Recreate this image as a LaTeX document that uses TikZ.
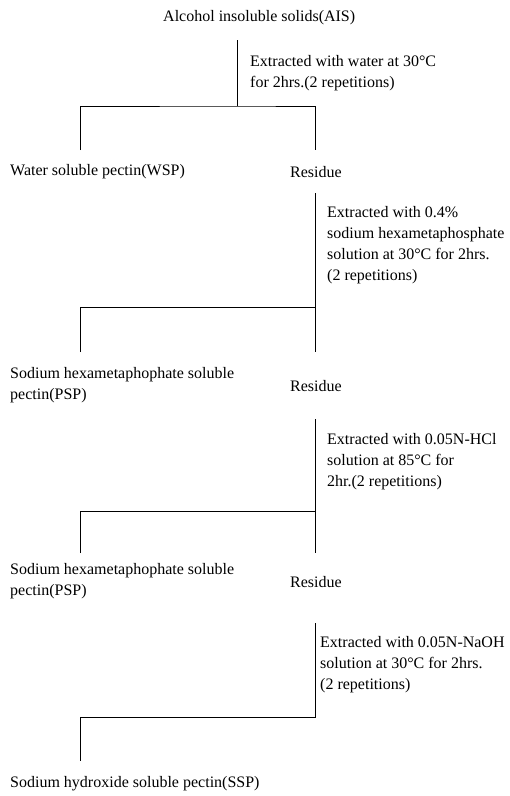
\documentclass[tikz,border=0pt]{standalone}
\usepackage{fontspec}
\setmainfont{Liberation Serif}
\usetikzlibrary{positioning}
\tikzset{
line width=0.7pt,
product/.style={inner sep=0pt, anchor=west, align=left, font=\fontsize{16}{21}\selectfont}, % fractions and residues
cond/.style={product}, % extraction conditions beside the main line
}

\begin{document}
\begin{tikzpicture}[x=1pt, y=-1pt]
\useasboundingbox (0,0) rectangle (510,796);
\node[product] at (163,18) (AIS) {Alcohol insoluble solids(AIS)};
\node[cond] at (250,73) (C1) {Extracted with water at 30°C\\for 2hrs.(2 repetitions)};
\node[product] at (10,172) (WSP) {Water soluble pectin(WSP)};
\node[product] at (290,172) (R1) {Residue};
\node[cond] at (327,245) (C2) {Extracted with 0.4\%\\sodium hexametaphosphate\\solution at 30°C for 2hrs.\\(2 repetitions)};
\node[product] at (10,385) (PSP1) {Sodium hexametaphophate soluble\\pectin(PSP)};
\node[product] at (290,386) (R2) {Residue};
\node[cond] at (327,462) (C3) {Extracted with 0.05N-HCl\\solution at 85°C for\\2hr.(2 repetitions)};
\node[product] at (10,581) (PSP2) {Sodium hexametaphophate soluble\\pectin(PSP)};
\node[product] at (290,582) (R3) {Residue};
\node[cond] at (320,665) (C4) {Extracted with 0.05N-NaOH\\solution at 30°C for 2hrs.\\(2 repetitions)};
\node[product] at (10,784) (SSP) {Sodium hydroxide soluble pectin(SSP)};

\coordinate (t1) at (237,40);
\coordinate (m1) at (237,106);
\coordinate (l1) at (80,150);
\coordinate (r1) at (315,150);
\coordinate (t2) at (315,193);
\coordinate (m2) at (315,307);
\coordinate (b2) at (315,352);
\coordinate (l2) at (80,352);
\coordinate (t3) at (315,419);
\coordinate (m3) at (315,511);
\coordinate (b3) at (315,553);
\coordinate (l3) at (80,553);
\coordinate (t4) at (315,623);
\coordinate (m4) at (315,717);
\coordinate (l4) at (80,761);

\draw (t1) -- (m1);
\draw (l1) |- (m1) -| (r1);
\draw (t2) -- (b2);
\draw (l2) |- (m2);
\draw (t3) -- (b3);
\draw (l3) |- (m3);
\draw (t4) -- (m4) -| (l4);

\end{tikzpicture}
\end{document}
